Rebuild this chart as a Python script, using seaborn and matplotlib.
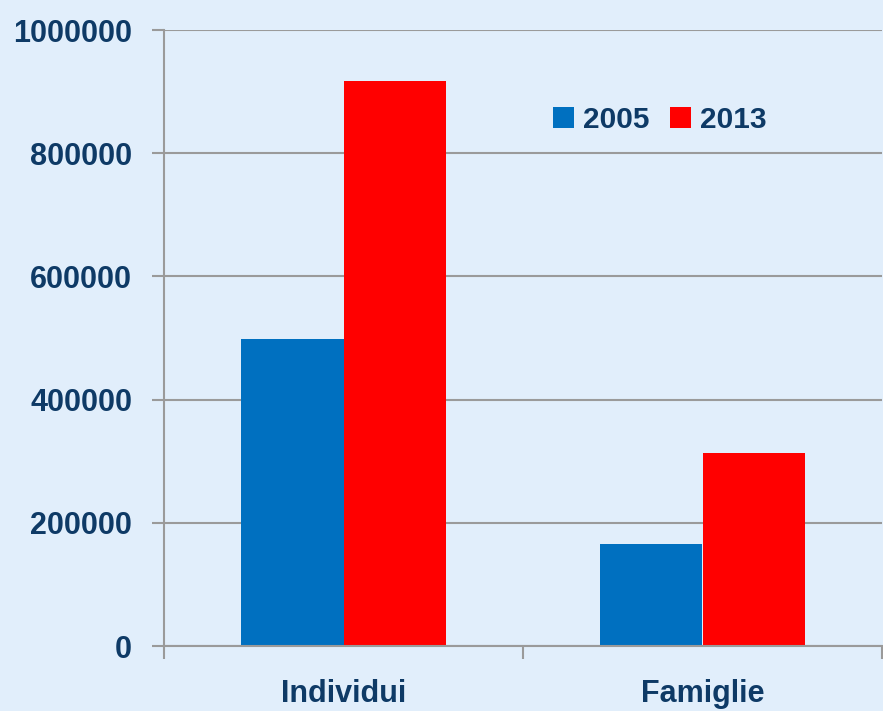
import matplotlib
matplotlib.use("Agg")
import matplotlib.pyplot as plt
import seaborn as sns
import pandas as pd

# values
categories = ["Individui", "Famiglie"]
years = ["2005", "2013"]
values_2005 = [498000, 166000]
values_2013 = [918000, 313000]
y_ticks = [0, 200000, 400000, 600000, 800000, 1000000]

bg = "#E1EEFB"
navy = "#0E3A66"
colors = {"2005": "#0070C0", "2013": "#FF0000"}

df = pd.DataFrame({
    "categoria": categories * 2,
    "anno": [years[0]] * 2 + [years[1]] * 2,
    "valore": values_2005 + values_2013,
})

sns.set_theme(style="white")
plt.rcParams["font.family"] = ["Liberation Sans", "DejaVu Sans"]

fig = plt.figure(figsize=(8.83, 7.11), dpi=100, facecolor=bg)
ax = fig.add_axes([164 / 883, 65 / 711, 718 / 883, 616 / 711])
ax.set_facecolor(bg)

sns.barplot(data=df, x="categoria", y="valore", hue="anno", palette=colors,
            width=0.57, gap=0, linewidth=0, saturation=1, ax=ax)

ax.set_xlim(-0.5, 1.5)
ax.set_ylim(0, 1000000)
ax.set_yticks(y_ticks)
ax.set_yticklabels([str(v) for v in y_ticks])
ax.yaxis.grid(True, color="#9A9A9A", linewidth=1.5)
ax.set_axisbelow(True)
ax.set_xlabel("")
ax.set_ylabel("")

for s in ["top", "right"]:
    ax.spines[s].set_visible(False)
for s in ["left", "bottom"]:
    ax.spines[s].set_color("#9A9A9A")
    ax.spines[s].set_linewidth(1.5)

ax.tick_params(axis="y", length=9, width=1.5, color="#9A9A9A", pad=14,
               labelsize=22, labelcolor=navy, left=True)
ax.tick_params(axis="x", which="major", length=0, pad=24,
               labelsize=22, labelcolor=navy)
ax.set_xticks([-0.5, 0.5, 1.5], minor=True)
ax.tick_params(axis="x", which="minor", length=9, width=1.5, color="#9A9A9A",
               bottom=True)
for lbl in ax.get_xticklabels() + ax.get_yticklabels():
    lbl.set_fontweight("bold")

ax.legend(ncol=2, frameon=False, loc="center", bbox_to_anchor=(0.747, 0.831),
          bbox_transform=fig.transFigure, handlelength=0.7, handleheight=0.7,
          handletextpad=0.3, columnspacing=0.7,
          prop={"size": 21.5, "weight": "bold"}, labelcolor=navy)

fig.savefig("out.png", dpi=100, facecolor=bg)
